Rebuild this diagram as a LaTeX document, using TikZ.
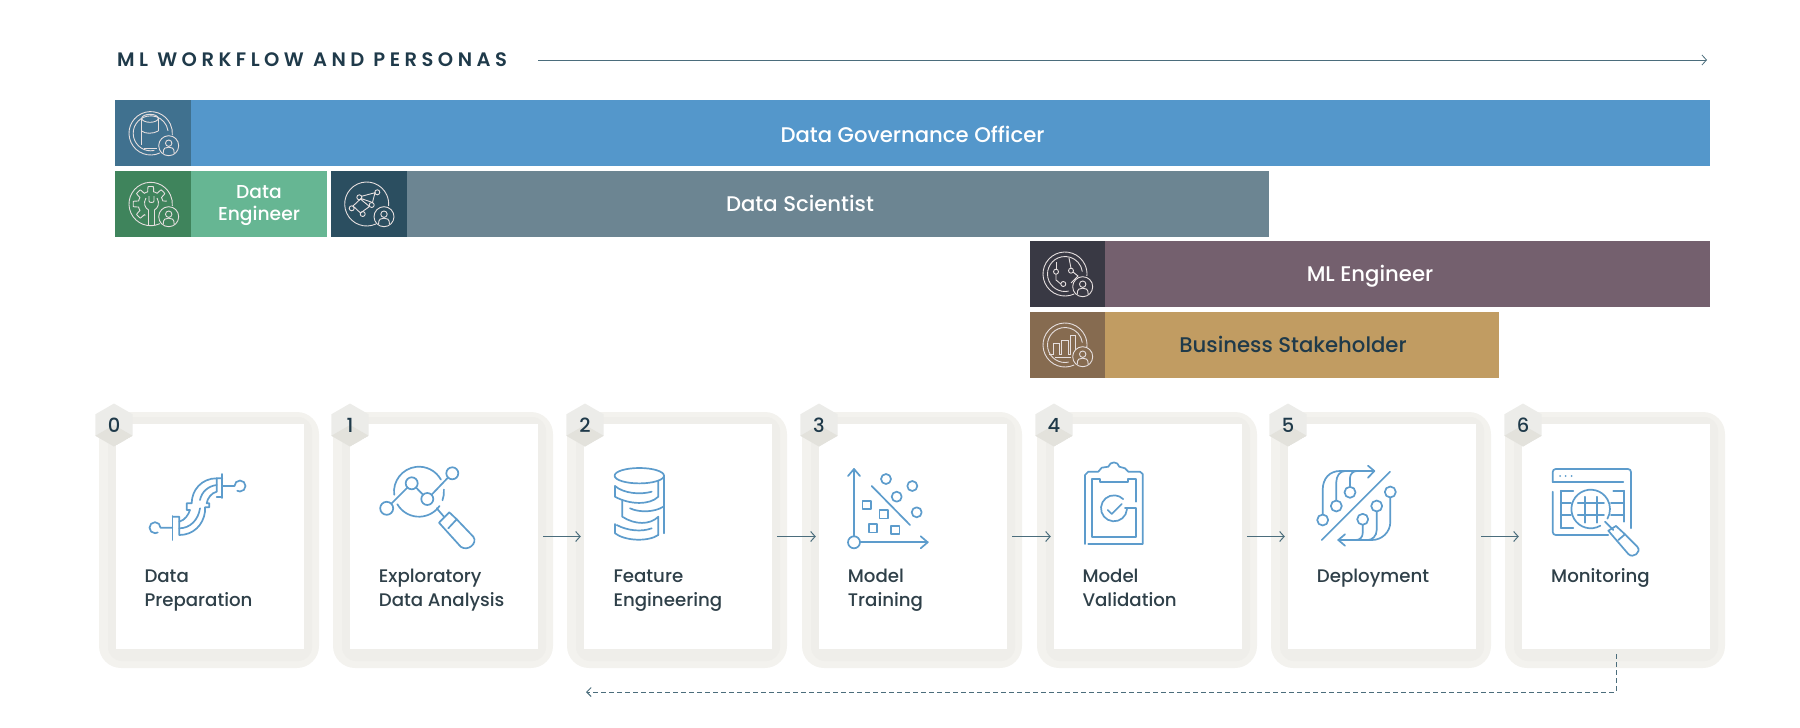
\documentclass[tikz,border=0pt]{standalone}
\usepackage{fontspec}
\setmainfont{Poppins Medium}
\newfontfamily\titlefont[LetterSpace=23]{Poppins SemiBold}
\usepackage{tikz}
\usetikzlibrary{arrows.meta,shapes.geometric}
\definecolor{govblue}{HTML}{5497CB}
\definecolor{govdark}{HTML}{40718F}
\definecolor{enggreen}{HTML}{66B693}
\definecolor{engdark}{HTML}{3F845C}
\definecolor{sciteal}{HTML}{6C8592}
\definecolor{scidark}{HTML}{2B4E60}
\definecolor{mlplum}{HTML}{74606E}
\definecolor{mldark}{HTML}{393944}
\definecolor{bizgold}{HTML}{C19C62}
\definecolor{bizdark}{HTML}{866B50}
\definecolor{inkdark}{HTML}{1F3A4A}
\definecolor{steptext}{HTML}{2F4049}
\definecolor{flowline}{HTML}{4B6D7C}
\definecolor{iconblue}{HTML}{5D9CCC}
\definecolor{iconpale}{HTML}{E6DFDF}
\definecolor{halolight}{HTML}{F3F2EE}
\definecolor{halodark}{HTML}{EFEEEA}
\definecolor{badgelight}{HTML}{ECECE9}
\definecolor{badgedark}{HTML}{E3E2DC}
\tikzset{
	barnode/.style={rectangle, inner sep=0pt, minimum height=66pt, text=white, text height=15.5pt, text depth=0pt, font=\fontsize{21.2}{26}\selectfont},
	iconbox/.style={rectangle, inner sep=0pt, minimum height=66pt, minimum width=76pt},
	halonode/.style={rectangle, rounded corners=22pt, fill=halolight, minimum width=220pt, minimum height=256pt, inner sep=0pt},
	haloinner/.style={rectangle, rounded corners=14pt, fill=halodark, minimum width=204pt, minimum height=244pt, inner sep=0pt},
	cardnode/.style={rectangle, fill=white, minimum width=188pt, minimum height=225pt, inner sep=0pt},
	badgenode/.style={regular polygon, regular polygon sides=6, shape border rotate=30, minimum size=43pt, inner sep=0pt, fill=badgelight, text=inkdark, font=\fontsize{19.5}{20}\selectfont,
		path picture={\fill[badgedark] (path picture bounding box.center) -- ++(-18.6,10.75) -- ++(18.6,10.75) -- ++(18.6,-10.75) -- cycle;}},
	steplabel/.style={anchor=base west, align=left, inner sep=0pt, text=steptext, font=\fontsize{18.2}{24.6}\selectfont},
	flowarrow/.style={line width=1pt, color=flowline, -{Straight Barb[length=4.5pt,width=10pt]}},
	loopback/.style={line width=1pt, color=flowline, dashed, dash pattern=on 4.5pt off 3.5pt, -{Straight Barb[length=4.5pt,width=9pt]}},
	stepicon/.style={line width=1.7pt, color=iconblue, line cap=round, line join=round},
	personaicon/.style={line width=0.9pt, color=iconpale},
	personpic/.pic={
		\draw circle (10);
		\draw (0,-2.5) circle (3.2);
		\draw (-5.5,7.5) .. controls (-5.5,2) and (-3,1.5) .. (0,1.5) .. controls (3,1.5) and (5.5,2) .. (5.5,7.5);
	}
}
\begin{document}
\begin{tikzpicture}[x=1pt,y=-1pt]
	\useasboundingbox (0,0) rectangle (1800,728);

	\node[anchor=west, inner sep=0pt, text=inkdark, font=\fontsize{19.5}{20}\titlefont] (title) at (117,60) {ML WORKFLOW AND PERSONAS};
	\coordinate (titleend) at (1707,60);
	\draw[flowarrow, line width=0.8pt, shorten <=31pt] (title.east) -- (titleend);

	\node[barnode, fill=govblue, minimum width=1595pt, text height=18.5pt] (govbar) at (912.5,133) {Data Governance Officer};
	\node[iconbox, fill=govdark] (govicon) at (153,133) {};
	\node[barnode, fill=enggreen, minimum width=212pt] (engbar) at (221,204) {};
	\node[iconbox, fill=engdark] (engicon) at (153,204) {};
	\node[text=white, inner sep=0pt, align=center, font=\fontsize{18.7}{21.7}\selectfont] (englabel) at (259,205.5) {Data\\Engineer};
	\node[barnode, fill=sciteal, minimum width=938pt] (scibar) at (800,204) {Data Scientist};
	\node[iconbox, fill=scidark] (sciicon) at (369,204) {};
	\node[barnode, fill=mlplum, minimum width=680pt] (mlbar) at (1370,274) {ML Engineer};
	\node[iconbox, fill=mldark, minimum width=75pt] (mlicon) at (1067.5,274) {};
	\node[barnode, fill=bizgold, minimum width=469pt] (bizbar) at (1264.5,344.5) {};
	\node[iconbox, fill=bizdark, minimum width=75pt] (bizicon) at (1067.5,344.5) {};
	\node[inner sep=0pt, text=inkdark, text height=15.5pt, text depth=0pt, font=\fontsize{21.2}{26}\selectfont] (bizlabel) at (1293,344.5) {Business Stakeholder};

	\begin{scope}[personaicon]
		\draw (150.7,133.3) ++(65:21.7) arc (65:365:21.7);
		\draw (150.7,133.3) ++(78:17.5) arc (78:352:17.5);
		\draw (150,118.3) ellipse (8.3 and 4);
		\draw (141.7,118.3) -- (141.7,145);
		\draw (158.3,118.3) -- (158.3,131);
		\draw (141.7,131) .. controls (145,134) and (153,134) .. (158.3,131);
		\draw (144,148) -- (157,148);
		\pic at (168.7,145.7) {personpic};

		\draw (150.7,204) ++(65:21.7) arc (65:365:21.7);
		\draw plot[domain=115:350, samples=200] ({150.7+(15+2.5*max(-1,min(1,3*cos(8*\x))))*cos(\x)},{204+(15+2.5*max(-1,min(1,3*cos(8*\x))))*sin(\x)});
		\draw (149,196) -- (149,201) .. controls (149,203) and (154,203) .. (154,201) -- (154,196);
		\draw (146,198) .. controls (143,203) and (145,208) .. (148.5,210) -- (148.5,225);
		\draw (157,198) .. controls (160,203) and (158,208) .. (154.5,210) -- (154.5,225);
		\pic at (168.7,216.7) {personpic};

		\draw (366.7,204) ++(65:22) arc (65:365:22);
		\draw (377.3,192.3) circle (2.5);
		\draw (359.3,197.3) circle (2.5);
		\draw (371.7,205) circle (2.5);
		\draw (351.7,208.3) circle (2.5);
		\draw (362.7,214) circle (2.5);
		\draw (361.5,196.3) -- (375,192.7) -- (372.5,202.5) -- (361,198.5) -- (353,206) -- (360.5,213) -- (369.5,206.5) -- (361,199.5);
		\pic at (384,216.7) {personpic};

		\draw (1065,274) ++(65:22) arc (65:365:22);
		\draw (1065,274) ++(78:17.5) arc (78:352:17.5);
		\draw (1056,271.7) circle (2.5);
		\draw (1071,270.7) circle (2.5);
		\draw (1063.3,284) circle (2.5);
		\draw (1056,269) -- (1056,262);
		\draw (1056,274.2) -- (1056,280) -- (1060.8,284);
		\draw (1071,268.2) -- (1069,258);
		\draw (1073,272) -- (1078,276) -- (1071,283);
		\pic at (1082.7,286.7) {personpic};

		\draw (1065,345) ++(65:22) arc (65:365:22);
		\draw (1065,345) ++(78:17.5) arc (78:352:17.5);
		\draw (1049,354) -- (1053.3,354) -- (1053.3,343) -- (1059.3,343) -- (1059.3,354) -- (1061.7,354) -- (1061.7,340) -- (1068.3,340) -- (1068.3,354) -- (1070,354) -- (1070,335.7) -- (1075,335.7) -- (1075,350);
		\draw (1055,357.5) -- (1071,357.5);
		\pic at (1082.7,356.7) {personpic};
	\end{scope}

	\node[halonode] (halo0) at (209,540) {};
	\node[haloinner] (shade0) at (210,539) {};
	\node[cardnode] (card0) at (210,536.5) {};
	\node[badgenode] (badge0) at (114,425) {0};
	\node[steplabel] (label0) at (144.3,606.6) {Data\\Preparation};

	\node[halonode] (halo1) at (443,540) {};
	\node[haloinner] (shade1) at (444,539) {};
	\node[cardnode] (card1) at (444,536.5) {};
	\node[badgenode] (badge1) at (350,425) {1};
	\node[steplabel] (label1) at (378.7,606.6) {Exploratory\\Data Analysis};

	\node[halonode] (halo2) at (677,540) {};
	\node[haloinner] (shade2) at (678,539) {};
	\node[cardnode] (card2) at (678,536.5) {};
	\node[badgenode] (badge2) at (585,425) {2};
	\node[steplabel] (label2) at (613.3,606.6) {Feature\\Engineering};

	\node[halonode] (halo3) at (912,540) {};
	\node[haloinner] (shade3) at (913,539) {};
	\node[cardnode] (card3) at (913,536.5) {};
	\node[badgenode] (badge3) at (819,425) {3};
	\node[steplabel] (label3) at (847.7,606.6) {Model\\Training};

	\node[halonode] (halo4) at (1147,540) {};
	\node[haloinner] (shade4) at (1148,539) {};
	\node[cardnode] (card4) at (1148,536.5) {};
	\node[badgenode] (badge4) at (1054,425) {4};
	\node[steplabel] (label4) at (1082.3,606.6) {Model\\Validation};

	\node[halonode] (halo5) at (1381,540) {};
	\node[haloinner] (shade5) at (1382,539) {};
	\node[cardnode] (card5) at (1382,536.5) {};
	\node[badgenode] (badge5) at (1288,425) {5};
	\node[steplabel] (label5) at (1316.7,582) {Deployment};

	\node[halonode] (halo6) at (1615,540) {};
	\node[haloinner] (shade6) at (1616,539) {};
	\node[cardnode] (card6) at (1616,536.5) {};
	\node[badgenode] (badge6) at (1523,425) {6};
	\node[steplabel] (label6) at (1551,582) {Monitoring};

	\draw[flowarrow, shorten <=5pt, shorten >=3pt] (card1) -- (card2);
	\draw[flowarrow, shorten <=5pt, shorten >=3pt] (card2) -- (card3);
	\draw[flowarrow, shorten <=5pt, shorten >=3pt] (card3) -- (card4);
	\draw[flowarrow, shorten <=5pt, shorten >=3pt] (card4) -- (card5);
	\draw[flowarrow, shorten <=5pt, shorten >=3pt] (card5) -- (card6);
	\coordinate (loopend) at (586,692);
	\draw[loopback, shorten <=5pt] (card6.south) -- (card6.south |- loopend) -- (loopend);

	\begin{scope}[stepicon]
		\draw (172.3,527.7) -- (160.5,527.7) arc (360:60:5.5);
		\draw (172.5,516) -- (172.5,540);
		\draw (222.3,474) -- (222.3,498);
		\draw (222.3,486) -- (234.5,486) arc (180:480:5.5);
		\draw (172.7,516.7) -- (179.3,516.7) -- (179.3,535) .. controls (193.3,535) and (203.3,525) .. (205,511.7) -- (205,507.3) -- (209.3,507.3) -- (209.3,503.3) -- (206.7,503.3) .. controls (207.3,498.3) and (211.7,492.7) .. (216.7,491.7) -- (216.7,478.3) -- (222.3,478.3);
		\draw (216.7,497.3) -- (222.3,497.3);
		\draw (216.7,478.3) .. controls (201.7,478.3) and (191.7,490) .. (191.7,503.3) -- (186.7,503.3) -- (186.7,510) -- (190,510) .. controls (188.3,515) and (185,520) .. (179.3,521.7);
		\draw (179.3,528.3) .. controls (190,528.3) and (198.3,520) .. (200,508.3);
		\draw (200,500) .. controls (201.7,491.7) and (208.3,486) .. (216.7,485);

		\draw (386.7,508.3) circle (6.5);
		\draw (411.7,483.3) circle (6);
		\draw (427.3,499) circle (6);
		\draw (452.3,473.3) circle (6);
		\draw (391.3,503.7) -- (407.5,487.5);
		\draw (416,487.5) -- (423,494.7);
		\draw (431.6,494.7) -- (448,477.6);
		\draw (419,491.7) ++(173:25) arc (173:331:25);
		\draw (419,491.7) ++(355:25) arc (355:380:25);
		\draw (419,491.7) ++(35:25) arc (35:150:25);
		\draw (436.7,508.3) -- (444,516.7);
		\draw (449.3,512.3) -- (456.7,519.3) -- (473.3,536.7) .. controls (478,543) and (468,552) .. (460.7,546.7) -- (439,522.7) -- cycle;
		\draw (448.3,528.3) -- (456.7,519.3);

		\draw (639.3,475.7) ellipse (24.7 and 7.7);
		\draw (664.3,476) -- (664.3,533.3);
		\draw (615,486) -- (615,496.7) .. controls (630,505) and (650,505) .. (658.3,496.7) -- (658.3,480.7);
		\draw (615,486) .. controls (623.3,493.3) and (640,495) .. (651.7,491.7);
		\draw (622.3,500) -- (622.3,516.7) .. controls (635,525) and (650,525) .. (658.3,516.7) -- (658.3,535);
		\draw (630,508.3) .. controls (640,513) and (655,512) .. (663.3,506.7);
		\draw (615,524) -- (615,533.3) .. controls (625,541) and (648,542) .. (658.3,535);
		\draw (616.7,525) .. controls (628,531) and (642,532) .. (651.7,528.3);

		\draw (854,542.3) circle (6);
		\draw (854,536.3) -- (854,469);
		\draw (848,476) -- (854,469) -- (860,476);
		\draw (860,542.3) -- (927.7,542.3);
		\draw (920.7,536.3) -- (927.7,542.3) -- (920.7,548.3);
		\draw (871.7,486) -- (910,525);
		\draw (886,479) circle (5);
		\draw (912.3,486) circle (5);
		\draw (896.7,496.7) circle (5);
		\draw (916.7,512.3) circle (5);
		\draw (862.4,500.7) rectangle (871,509.3);
		\draw (879.4,510) rectangle (888,518.6);
		\draw (868.7,524) rectangle (877.3,532.6);
		\draw (891,525.7) rectangle (899.6,534.3);

		\draw (1085,544) -- (1085,475) -- (1088.3,471.7) -- (1098.3,471.7) -- (1101.7,467.7) -- (1108.3,466.7) .. controls (1110,461) and (1118,461) .. (1119.3,466.7) -- (1125,468.3) -- (1128.3,471.7) -- (1140,471.7) -- (1142.7,474) -- (1142.7,544) -- (1088.3,544);
		\draw (1136,501.7) -- (1136,479.3) -- (1128.3,479.3) -- (1128.3,481.7) -- (1100,481.7) -- (1100,479.3) -- (1092,479.3) -- (1092,537.3) -- (1136,537.3) -- (1136,508.3) -- (1125,508.3);
		\draw (1114,508.3) ++(5:13) arc (5:315:13);
		\draw (1107.7,510) -- (1111.7,514) -- (1121.7,504);

		\draw (1321.7,540) -- (1390,471.7);
		\draw (1322.7,520) circle (5.5);
		\draw (1336.3,506) circle (5.5);
		\draw (1350,492.3) circle (5.5);
		\draw (1322.7,514.5) -- (1322.7,490) .. controls (1322.7,478) and (1330,471) .. (1340,471) -- (1374.3,471);
		\draw (1336.3,500.5) -- (1336.3,482) .. controls (1336.3,476) and (1340,471) .. (1345,471);
		\draw (1350,486.8) -- (1350,478) .. controls (1350,474) and (1353,471) .. (1357,471);
		\draw (1368,465.7) -- (1374.3,471) -- (1368,477.7);
		\draw (1390.3,492) circle (5.5);
		\draw (1376.7,506) circle (5.5);
		\draw (1362.7,519.3) circle (5.5);
		\draw (1390.3,497.5) -- (1390.3,522) .. controls (1390.3,532) and (1382,540) .. (1372,540) -- (1338.3,540);
		\draw (1376.7,511.5) -- (1376.7,530) .. controls (1376.7,536) and (1372,540) .. (1368,540);
		\draw (1362.7,524.8) -- (1362.7,533) .. controls (1362.7,537) and (1360,540) .. (1356,540);
		\draw (1345,534.3) -- (1338.3,540) -- (1345,545.7);

		\draw[rounded corners=3pt] (1552.7,482) -- (1552.7,469) -- (1631,469) -- (1631,528.3);
		\draw[rounded corners=3pt] (1552.7,491.7) -- (1552.7,535) -- (1608.3,535);
		\draw (1552.7,481.7) -- (1623.3,481.7);
		\fill (1560,476) circle (1);
		\fill (1565.7,476) circle (1);
		\fill (1571.7,476) circle (1);
		\draw (1560.7,490.7) -- (1560.7,527.7);
		\draw (1560.7,490.7) -- (1573.3,490.7);
		\draw (1560.7,503.3) -- (1571,503.3);
		\draw (1560.7,515) -- (1571,515);
		\draw (1560.7,527.7) -- (1573.3,527.7);
		\draw (1624,490.7) -- (1624,521.7);
		\draw (1613.3,490.7) -- (1624,490.7);
		\draw (1611,503.3) -- (1624,503.3);
		\draw (1611,515) -- (1624,515);
		\draw (1590.7,509) ++(60:19.3) arc (60:390:19.3);
		\draw (1585,496.7) -- (1585,522.7);
		\draw (1597.3,496.7) -- (1597.3,522.7);
		\draw (1577.7,503.3) -- (1604,503.3);
		\draw (1577.7,515) -- (1604,515);
		\draw (1605,521.7) -- (1613.3,530);
		\draw (1616,526) -- (1625,534.3) -- (1618.3,540);
		\draw (1616,526) -- (1608.3,530.7) -- (1628.3,554) .. controls (1633,559) and (1642,552) .. (1637.3,546.7) -- (1625,534.3);
	\end{scope}
\end{tikzpicture}
\end{document}
